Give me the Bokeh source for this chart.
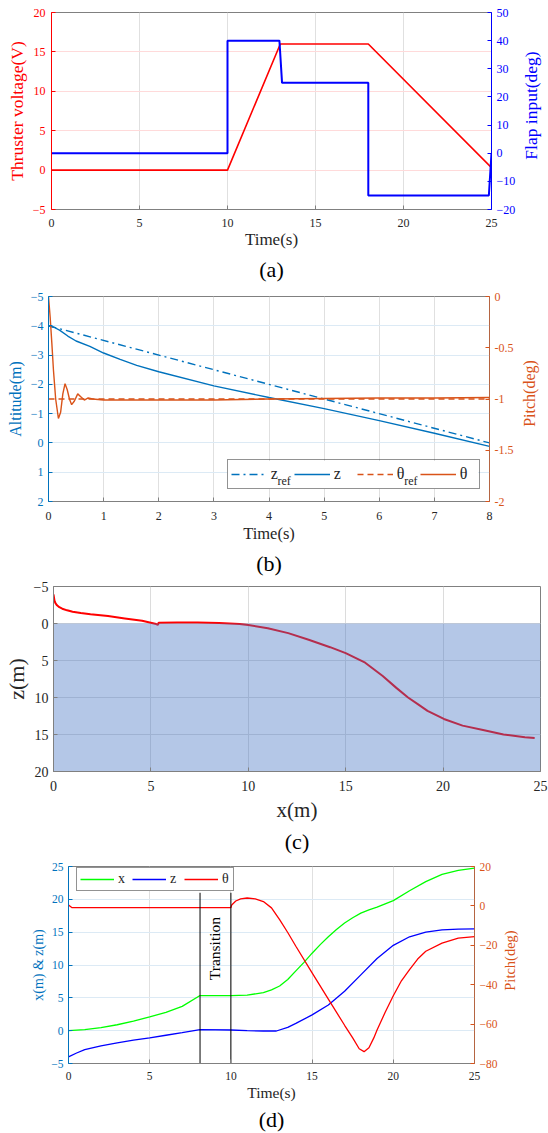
import math
from bokeh.plotting import figure
from bokeh.models import (Range1d, LinearAxis, FixedTicker, Legend, LegendItem,
                          Title, Label, NumeralTickFormatter, BoxAnnotation)
from bokeh.layouts import column, row
from bokeh.embed import file_html
from bokeh.resources import INLINE

FONT = "Liberation Serif"
W = 548
DARK = "#262626"
EDGE = "#808080"

# ---------------- (a) thruster voltage & flap input ----------------
a_time_volt = [0, 10, 13, 18, 25]
a_volt = [0, 0, 16, 16, 0.3]
a_time_flap = [0, 10, 10, 12.95, 13.1, 18, 18, 24.85, 25]
a_flap = [0, 0, 40, 40, 25, 25, -15, -15, 0]
a_x_ticks = [0, 5, 10, 15, 20, 25]
a_volt_ticks = [-5, 0, 5, 10, 15, 20]
a_flap_ticks = [-20, -10, 0, 10, 20, 30, 40, 50]

# ---------------- (b) altitude & pitch tracking ----------------
b_time_zref = [0, 8]
b_zref = [-4, 0]
b_time_z = [0, 0.1, 0.2, 0.35, 0.5, 0.75, 1.0, 1.3, 1.6, 2.0, 3, 4, 5, 6, 7, 8]
b_z = [-4.0, -3.95, -3.85, -3.65, -3.48, -3.3, -3.07, -2.85, -2.65, -2.43,
       -1.95, -1.55, -1.17, -0.76, -0.33, 0.12]
b_time_thref = [0, 8]
b_thref = [-1, -1]
b_time_theta = [0, 0.03, 0.06, 0.09, 0.13, 0.18, 0.22, 0.26, 0.30, 0.34, 0.38,
                0.42, 0.47, 0.53, 0.59, 0.65, 0.72, 0.8, 1.0, 2, 3, 4, 5, 6, 7, 8]
b_theta = [0, -0.2, -0.45, -0.72, -1.0, -1.19, -1.13, -0.95, -0.85, -0.91, -1.0,
           -1.055, -1.02, -0.95, -0.98, -1.01, -0.99, -1.0, -1.01, -1.01, -1.01,
           -1.0, -0.995, -0.99, -0.99, -0.985]
b_x_ticks = [0, 1, 2, 3, 4, 5, 6, 7, 8]
b_alt_ticks = [-5, -4, -3, -2, -1, 0, 1, 2]
b_pitch_ticks = [0, -0.5, -1, -1.5, -2]

# ---------------- (c) trajectory ----------------
c_x = [0, 0.02, 0.05, 0.1, 0.18, 0.3, 0.45, 0.7, 0.98, 1.4, 1.9, 2.8, 3.66, 4.55,
       5.27, 5.36, 5.4, 6.34, 7.4, 8.5, 9.55, 10, 11, 12.05, 13.1, 14.2, 15, 16,
       16.9, 17.6, 18.2, 18.7, 19.2, 20.04, 21, 22.05, 23.1, 24.2, 24.7]
c_z = [-3.93, -3.6, -3.1, -2.75, -2.46, -2.2, -2.0, -1.78, -1.6, -1.42, -1.26,
       -1.0, -0.69, -0.37, 0.07, 0.2, -0.11, -0.15, -0.15, -0.06, 0.07, 0.2, 0.65,
       1.3, 2.2, 3.2, 4.0, 5.3, 7.1, 8.7, 10.0, 10.9, 11.8, 12.9, 13.8, 14.4, 15.0,
       15.37, 15.46]
c_water_x = [0, 25]
c_water_top = [0, 0]
c_water_bottom = [20, 20]
c_x_ticks = [0, 5, 10, 15, 20, 25]
c_z_ticks = [-5, 0, 5, 10, 15, 20]

# ---------------- (d) states over time ----------------
d_time_x = [0, 1, 2, 3, 4, 5, 6, 7, 8.1, 10, 11, 12, 12.5, 13, 13.5, 14, 14.5, 15,
            15.5, 16, 16.5, 17, 17.5, 18, 18.5, 19, 19.5, 20, 21, 22, 23, 24, 25]
d_x = [0, 0.15, 0.45, 0.9, 1.45, 2.1, 2.8, 3.7, 5.35, 5.35, 5.4, 5.8, 6.2, 6.8, 7.8,
       9.1, 10.4, 11.8, 13.1, 14.3, 15.4, 16.4, 17.2, 17.9, 18.4, 18.8, 19.3, 19.8,
       21.3, 22.7, 23.8, 24.4, 24.75]
d_time_z = [0, 0.5, 1, 2, 3, 4, 5, 6, 7, 8.1, 10, 11, 12, 12.8, 13.5, 14, 15, 16,
            17, 18, 19, 20, 21, 22, 23, 24, 25]
d_z = [-4.0, -3.4, -2.9, -2.3, -1.85, -1.45, -1.1, -0.7, -0.3, 0.15, 0.1, 0.0,
       -0.05, -0.05, 0.5, 1.1, 2.4, 3.9, 6.0, 8.5, 11.0, 13.0, 14.3, 15.0, 15.35,
       15.45, 15.5]
d_time_theta = [0, 0.2, 0.5, 10, 10.05, 10.3, 10.6, 11, 11.5, 12, 12.5, 13, 13.5,
                14, 15, 16, 17, 17.5, 17.9, 18.2, 18.5, 18.8, 19, 19.5, 20, 20.5,
                21, 21.5, 22, 23, 24, 25]
d_theta = [0.5, -0.8, -0.9, -0.9, 0.5, 2.5, 3.6, 4.0, 3.6, 2.2, -1.0, -7.0, -13.5,
           -20.5, -34, -47.3, -60.6, -67, -72.5, -74, -72, -67, -63, -54, -45.6,
           -38, -32.3, -27, -23, -18.9, -16.4, -15.6]
d_transition_t = [8.1, 10]
d_transition_bottom = [-5, -5]
d_transition_top = [21, 21]
d_transition_label_t = 9.0
d_transition_label_y = 12.5
d_x_ticks = [0, 5, 10, 15, 20, 25]
d_left_ticks = [-5, 0, 5, 10, 15, 20, 25]
d_pitch_ticks = [-80, -60, -40, -20, 0, 20]


def base_fig(w, h, xr, yr, mbl, mbr, mbt, mbb):
    p = figure(width=w, height=h, x_range=xr, y_range=yr, output_backend="svg",
               toolbar_location=None, min_border_left=mbl, min_border_right=mbr,
               min_border_top=mbt, min_border_bottom=mbb, frame_align=False)
    p.outline_line_color = EDGE
    p.outline_line_width = 1
    p.background_fill_color = "white"
    p.border_fill_color = "white"
    return p


def style_axis(ax, ticks, color, tick_px, label="", label_px=16, line_color=None,
               standoff=5, label_standoff=3, fmt=None):
    ax.ticker = FixedTicker(ticks=ticks)
    lc = line_color or color
    ax.axis_line_color = lc
    ax.major_tick_line_color = lc
    ax.major_tick_in = 4
    ax.major_tick_out = 0
    ax.minor_tick_line_color = None
    ax.major_label_text_color = color
    ax.major_label_text_font = FONT
    ax.major_label_text_font_size = f"{tick_px}px"
    ax.major_label_standoff = standoff
    if label:
        ax.axis_label = label
    ax.axis_label_text_font = FONT
    ax.axis_label_text_font_size = f"{label_px}px"
    ax.axis_label_text_font_style = "normal"
    ax.axis_label_text_color = color
    ax.axis_label_standoff = label_standoff
    if fmt is not None:
        ax.formatter = fmt


def right_axis(p, range_name, ticks, color, tick_px, standoff, fmt=None):
    ax = LinearAxis(y_range_name=range_name)
    p.add_layout(ax, "right")
    style_axis(ax, ticks, color, tick_px, standoff=standoff, fmt=fmt)
    return ax


def side_label(text, w, h, x, y, px, color):
    # narrow strip to the right of a chart holding its right-axis title,
    # rotated to read bottom-to-top like the left one
    f = figure(width=w, height=h, output_backend="svg", toolbar_location=None,
               x_range=Range1d(0, 1), y_range=Range1d(0, 1),
               x_axis_location=None, y_axis_location=None, min_border=0,
               frame_align=False)
    f.outline_line_color = None
    f.xgrid.visible = False
    f.ygrid.visible = False
    f.background_fill_color = "white"
    f.border_fill_color = "white"
    f.add_layout(Label(x=x, y=y, x_units="screen", y_units="screen", text=text,
                       angle=math.pi / 2, text_font=FONT, text_font_size=f"{px}px",
                       text_color=color, text_align="center",
                       text_baseline="middle"))
    return f


def caption(p, text, standoff):
    p.add_layout(Title(text=text, align="center", text_font=FONT,
                       text_font_size="22px", text_font_style="normal",
                       text_color="black", standoff=standoff), "below")


def grids(p, xticks, yticks, xcolor, ycolor):
    p.xgrid.ticker = FixedTicker(ticks=xticks)
    p.ygrid.ticker = FixedTicker(ticks=yticks)
    p.xgrid.grid_line_color = xcolor
    p.ygrid.grid_line_color = ycolor
    p.xgrid.grid_line_width = 1
    p.ygrid.grid_line_width = 1


# ================= (a) =================
pa = base_fig(520, 284, Range1d(0, 25), Range1d(-5, 20), 51, 29, 12, 74)
pa.extra_y_ranges = {"flap": Range1d(-20, 50)}
grids(pa, a_x_ticks, a_volt_ticks, "#e0e0e0", "#ffdada")
style_axis(pa.xaxis[0], a_x_ticks, DARK, 12, "Time(s)", 17, line_color=EDGE,
           standoff=9, label_standoff=0)
style_axis(pa.yaxis[0], a_volt_ticks, "#ff0000", 12, "Thruster voltage(V)", 17.5,
           standoff=6, label_standoff=3)
right_axis(pa, "flap", a_flap_ticks, "#0000ff", 12, 5)
pa.line(a_time_volt, a_volt, line_color="#ff0000", line_width=1.6)
pa.line(a_time_flap, a_flap, line_color="#0000ff", line_width=2, y_range_name="flap")
caption(pa, "(a)", 6)
la = side_label("Flap input(deg)", 28, 284, 10.5, 179, 17.5, "#0000ff")

# ================= (b) =================
pb = base_fig(519, 294, Range1d(0, 8), Range1d(2, -5), 48, 30, 12, 75)
pb.extra_y_ranges = {"pitch": Range1d(-2, 0)}
grids(pb, b_x_ticks, b_alt_ticks, "#e0e0e0", "#dceaf5")
BLUE_B = "#0072BD"
ORANGE_B = "#D95319"
style_axis(pb.xaxis[0], b_x_ticks, DARK, 12, "Time(s)", 16.5, line_color=EDGE,
           standoff=10, label_standoff=1)
style_axis(pb.yaxis[0], b_alt_ticks, BLUE_B, 12, "Altitude(m)", 16,
           standoff=5, label_standoff=4)
ax_pitch = right_axis(pb, "pitch", b_pitch_ticks, ORANGE_B, 12, 5,
                      fmt=NumeralTickFormatter(format="0.[0]"))
ax_pitch.axis_line_alpha = 0.6
r_zref = pb.line(b_time_zref, b_zref, line_color=BLUE_B, line_width=1.4,
                 line_dash="8 4 2 4")
r_z = pb.line(b_time_z, b_z, line_color=BLUE_B, line_width=1.4)
r_thref = pb.line(b_time_thref, b_thref, line_color=ORANGE_B, line_width=1.4,
                  line_dash="6 4", y_range_name="pitch")
r_th = pb.line(b_time_theta, b_theta, line_color=ORANGE_B, line_width=1.4,
               y_range_name="pitch")
# white backing for the legend box (legend itself is transparent so that the
# subscript labels stay visible)
pb.add_layout(BoxAnnotation(left=178.7, right=429.7, bottom=12.5, top=40.5,
                            left_units="screen", right_units="screen",
                            bottom_units="screen", top_units="screen",
                            fill_color="white", fill_alpha=1, line_color=None,
                            level="underlay"))
leg_b = Legend(items=[LegendItem(label="z", renderers=[r_zref]),
                      LegendItem(label="z", renderers=[r_z]),
                      LegendItem(label="\u03b8", renderers=[r_thref]),
                      LegendItem(label="\u03b8", renderers=[r_th])],
               orientation="horizontal", location=(178.7, 12.5),
               padding=3, spacing=7, glyph_width=36, glyph_height=22,
               label_standoff=4, label_width=16, label_height=22,
               label_text_font=FONT, label_text_font_size="16px",
               label_text_color=DARK, label_text_baseline="middle",
               border_line_color=DARK, border_line_width=1,
               background_fill_alpha=0)
pb.add_layout(leg_b, "center")
for rx in (229.0, 355.7):
    pb.add_layout(Label(x=rx, y=21, x_units="screen", y_units="screen",
                        text="ref", text_font=FONT, text_font_size="12px",
                        text_color=DARK, text_baseline="middle",
                        text_align="left"))
caption(pb, "(b)", 6)
lb = side_label("Pitch(deg)", 29, 294, 9.5, 185, 16, ORANGE_B)

# ================= (c) =================
pc = base_fig(W, 277, Range1d(0, 25), Range1d(20, -5), 51, 8, 8, 82)
grids(pc, c_x_ticks, c_z_ticks, "#dcdcdc", "#dcdcdc")
style_axis(pc.xaxis[0], c_x_ticks, DARK, 14, "x(m)", 21, line_color=EDGE,
           standoff=9, label_standoff=4)
style_axis(pc.yaxis[0], c_z_ticks, DARK, 14, "z(m)", 22, line_color=EDGE,
           standoff=5, label_standoff=2)
pc.line(c_x, c_z, line_color="#ff0000", line_width=2)
pc.varea(x=c_water_x, y1=c_water_top, y2=c_water_bottom, fill_color="#4472C4",
         fill_alpha=0.4)
caption(pc, "(c)", 4)

# ================= (d) =================
pd_ = base_fig(500, 278, Range1d(0, 25), Range1d(-5, 25), 68, 26, 11, 68)
pd_.extra_y_ranges = {"pitch": Range1d(-80, 20)}
grids(pd_, d_x_ticks, d_left_ticks, "#e0e0e0", "#dceaf5")
style_axis(pd_.xaxis[0], d_x_ticks, DARK, 11.5, "Time(s)", 15.5, line_color=EDGE,
           standoff=8, label_standoff=1)
style_axis(pd_.yaxis[0], d_left_ticks, BLUE_B, 11.5, "x(m) & z(m)", 14,
           standoff=5, label_standoff=2)
ax_pd = right_axis(pd_, "pitch", d_pitch_ticks, ORANGE_B, 11.5, 5)
ax_pd.axis_line_alpha = 0.6
rg = pd_.line(d_time_x, d_x, line_color="#00ff00", line_width=1.3)
rb = pd_.line(d_time_z, d_z, line_color="#0000ff", line_width=1.3)
rr = pd_.line(d_time_theta, d_theta, line_color="#ff0000", line_width=1.3,
              y_range_name="pitch")
pd_.segment(x0=d_transition_t, y0=d_transition_bottom, x1=d_transition_t,
            y1=d_transition_top, line_color="black", line_width=1)
pd_.add_layout(Label(x=d_transition_label_t, y=d_transition_label_y,
                     text="Transition", angle=math.pi / 2, text_font=FONT,
                     text_font_size="15.5px", text_color="black",
                     text_align="center", text_baseline="middle"))
leg_d = Legend(items=[LegendItem(label="x", renderers=[rg]),
                      LegendItem(label="z", renderers=[rb]),
                      LegendItem(label="\u03b8", renderers=[rr])],
               orientation="horizontal", location=(8, 172),
               padding=3, spacing=6, glyph_width=34, glyph_height=14,
               label_standoff=4, label_width=8, label_height=14,
               label_text_font=FONT, label_text_font_size="14px",
               label_text_color=DARK, label_text_baseline="middle",
               border_line_color=DARK, border_line_width=1,
               background_fill_color="white", background_fill_alpha=1)
pd_.add_layout(leg_d, "center")
caption(pd_, "(d)", 3)
ld = side_label("Pitch(deg)", 48, 278, 9.0, 173, 14.5, ORANGE_B)

layout = column(row(pa, la, spacing=0), row(pb, lb, spacing=0), pc,
                row(pd_, ld, spacing=0), spacing=0)
open("out.html", "w").write(file_html(layout, INLINE))
